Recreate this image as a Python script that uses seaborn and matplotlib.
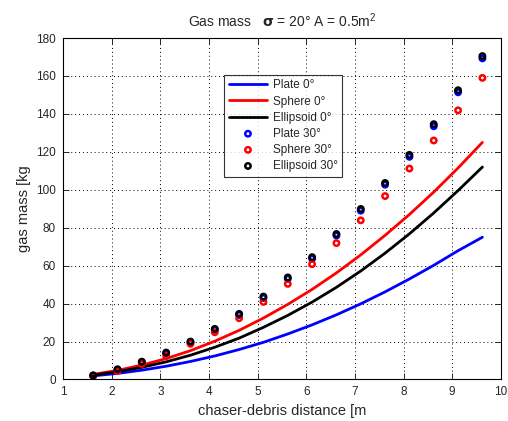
import numpy as np
import pandas as pd
import matplotlib
matplotlib.use('Agg')
import matplotlib.pyplot as plt
import seaborn as sns

# distances [m]
distance = [1.62, 2.12, 2.62, 3.12, 3.62, 4.12, 4.62, 5.12, 5.62,
            6.12, 6.62, 7.12, 7.62, 8.12, 8.62, 9.12, 9.62]

# gas mass [kg], 0 deg
plate_0 = [1.9, 3.2, 4.9, 7.0, 9.5, 12.4, 15.8, 19.6, 24.0,
           28.8, 34.1, 39.9, 46.2, 53.0, 60.2, 67.9, 75.0]
sphere_0 = [2.7, 4.8, 7.6, 11.0, 15.2, 20.2, 25.9, 32.4, 39.6,
            47.5, 56.2, 65.7, 76.0, 87.0, 98.8, 111.5, 125.0]
ellipsoid_0 = [2.3, 4.1, 6.4, 9.3, 12.8, 17.0, 21.8, 27.5, 33.8,
               40.8, 48.6, 57.2, 66.6, 76.8, 87.8, 99.6, 112.0]

# gas mass [kg], 30 deg
plate_30 = [2.0, 5.1, 9.1, 13.8, 19.6, 26.2, 34.0, 43.0, 53.1,
            63.7, 75.9, 89.0, 102.7, 117.4, 133.5, 151.4, 169.3]
sphere_30 = [1.8, 4.4, 8.2, 12.4, 18.8, 24.9, 32.3, 40.9, 50.4,
             60.8, 71.9, 83.9, 96.7, 111.2, 126.0, 141.9, 159.0]
ellipsoid_30 = [2.2, 5.4, 9.4, 14.2, 20.0, 26.7, 34.6, 43.7, 53.8,
                64.5, 76.7, 89.9, 103.6, 118.4, 134.6, 152.5, 170.5]

sns.set_style('white')
plt.rcParams['font.family'] = ['Liberation Sans', 'DejaVu Sans']
plt.rcParams['mathtext.fontset'] = 'custom'
plt.rcParams['mathtext.rm'] = 'Liberation Sans'
plt.rcParams['mathtext.it'] = 'Liberation Sans'

fig = plt.figure(figsize=(5.08, 4.21), dpi=100)
ax = fig.add_axes([0.124, 0.0986, 0.862, 0.811])

# continuous curves
for y, col, lab in [(plate_0, 'blue', 'Plate 0°'),
                    (sphere_0, 'red', 'Sphere 0°'),
                    (ellipsoid_0, 'black', 'Ellipsoid 0°')]:
    sns.lineplot(x=distance, y=y, color=col, lw=2, label=lab, ax=ax)

# 30 deg markers
for y, col, lab in [(plate_30, 'blue', 'Plate 30°'),
                    (sphere_30, 'red', 'Sphere 30°'),
                    (ellipsoid_30, 'black', 'Ellipsoid 30°')]:
    sns.scatterplot(x=distance, y=y, marker='o', s=15, facecolor='none',
                    edgecolor=col, linewidth=1.8, label=lab, ax=ax, zorder=3)

ax.set_xlim(1, 10)
ax.set_ylim(0, 180)
ax.set_xticks(range(1, 11))
ax.set_yticks(range(0, 181, 20))
ax.grid(True, color='black', linestyle=(0, (1, 3)), linewidth=0.7)
ax.tick_params(direction='in', length=4, width=0.7, labelsize=8.5,
               top=True, right=True, bottom=True, left=True, pad=5)
for sp in ax.spines.values():
    sp.set_color('black')
    sp.set_linewidth(0.8)

ax.set_xlabel('chaser-debris distance [m', fontsize=10.5, labelpad=4)
ax.set_ylabel('gas mass [kg', fontsize=10.5, labelpad=4)
ax.set_title('Gas mass   $\\mathbf{\\sigma}$ = 20° A = 0.5m$^2$', fontsize=10, pad=8)

leg = ax.legend(loc='upper left', bbox_to_anchor=(0.355, 0.91), fontsize=8.5,
                frameon=True, fancybox=False, edgecolor='black', handlelength=3.2,
                borderpad=0.4, labelspacing=0.35, handletextpad=0.5)
leg.get_frame().set_linewidth(0.8)

fig.savefig('out.png', dpi=100)
